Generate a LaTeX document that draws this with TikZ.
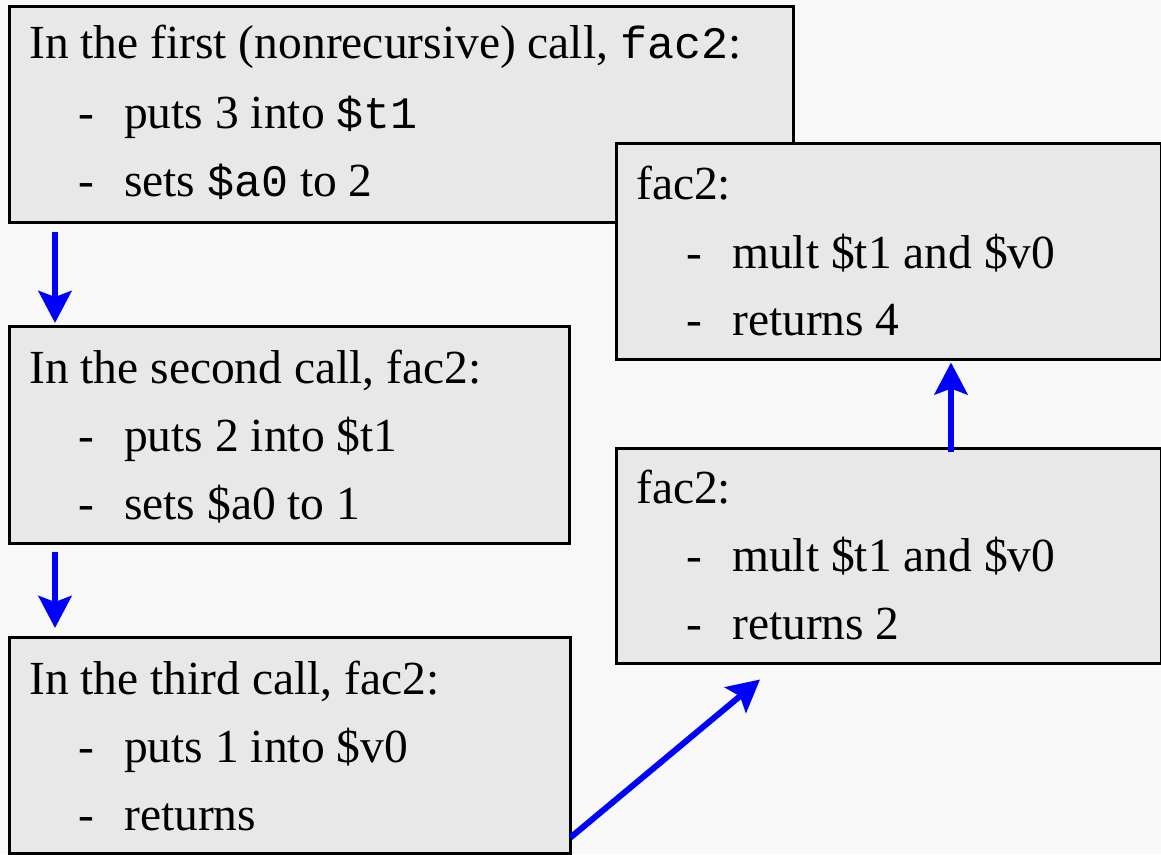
\documentclass[tikz,border=0pt]{standalone}
\usepackage{fontspec}
\setmainfont{Liberation Serif}
\newfontfamily\monof{Liberation Mono}
\usetikzlibrary{arrows.meta,calc}
\definecolor{bgc}{HTML}{F8F8F8}
\definecolor{boxc}{HTML}{E8E8E8}
\definecolor{arrc}{HTML}{0000FF}
\begin{document}
\begin{tikzpicture}[x=1pt,y=-1pt,
  box/.style={draw=black,fill=boxc,line width=2.5pt,anchor=north west,inner sep=0pt},
  txt/.style={anchor=base west,inner sep=0pt,font=\fontsize{47.5}{52}\selectfont},
  mono/.style={font=\fontsize{45}{50}\monof},
  arr/.style={draw=arrc,line width=6pt,-{Stealth[length=32pt,width=33pt,inset=6pt]}}]
\fill[bgc] (0,0) rectangle (1161,854);
\useasboundingbox (0,0) rectangle (1161,854);
% boxes
\node[box,minimum width=784pt,minimum height=216pt] (b1) at (8,5) {};
\node[box,minimum width=560pt,minimum height=217pt] (b2) at (8,325) {};
\node[box,minimum width=561pt,minimum height=216pt] (b3) at (8,636) {};
\node[box,minimum width=545pt,minimum height=215pt] (b4) at (615,447) {};
\node[box,minimum width=545pt,minimum height=216pt] (b5) at (615,142) {};
% box 1
\node[txt] (t11) at (29,58) {In the first (nonrecursive) call, {\fontsize{45}{50}\monof fac2}:};
\node[txt] (d12) at (78,128) {-};
\node[txt] (t12) at (124,128) {puts 3 into {\fontsize{45}{50}\monof \$t1}};
\node[txt] (d13) at (78,196) {-};
\node[txt] (t13) at (124,196) {sets {\fontsize{45}{50}\monof \$a0} to 2};
% box 2
\node[txt] (t21) at (29,383) {In the second call, fac2:};
\node[txt] (d22) at (78,451) {-};
\node[txt] (t22) at (124,451) {puts 2 into \$t1};
\node[txt] (d23) at (78,519) {-};
\node[txt] (t23) at (124,519) {sets \$a0 to 1};
% box 3
\node[txt] (t31) at (29,694) {In the third call, fac2:};
\node[txt] (d32) at (78,762) {-};
\node[txt] (t32) at (124,762) {puts 1 into \$v0};
\node[txt] (d33) at (78,830) {-};
\node[txt] (t33) at (124,830) {returns};
% box 4
\node[txt] (t41) at (636,503) {fac2:};
\node[txt] (d42) at (686,571) {-};
\node[txt] (t42) at (732,571) {mult \$t1 and \$v0};
\node[txt] (d43) at (686,639) {-};
\node[txt] (t43) at (732,639) {returns 2};
% box 5
\node[txt] (t51) at (636,199) {fac2:};
\node[txt] (d52) at (686,268) {-};
\node[txt] (t52) at (732,268) {mult \$t1 and \$v0};
\node[txt] (d53) at (686,335) {-};
\node[txt] (t53) at (732,335) {returns 4};
% arrows
\draw[arr] ($(b1.south west)+(47,8)$) -- ($(b2.north west)+(47,-2)$);
\draw[arr] ($(b2.south west)+(47,7)$) -- ($(b3.north west)+(47,-8)$);
\draw[arr] ($(b3.south east)+(-1,-17)$) -- ($(b4.south west)+(145,15)$);
\draw[arr] ($(b4.north west)+(336,5)$) -- ($(b5.south west)+(336,2)$);
\end{tikzpicture}
\end{document}
